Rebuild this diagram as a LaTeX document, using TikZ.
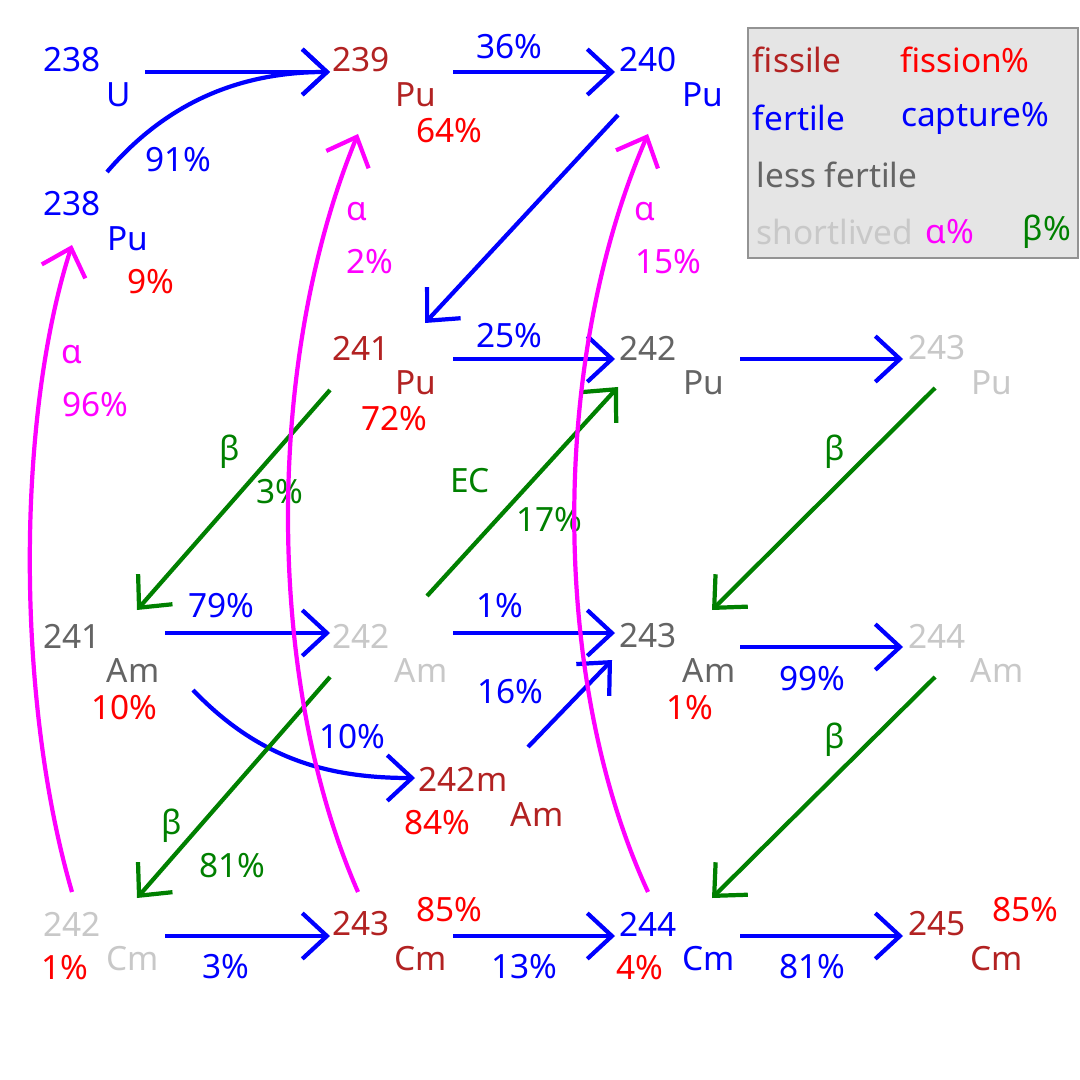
\documentclass[tikz,border=0pt]{standalone}
\usepackage{fontspec}
\setmainfont{Noto Sans}
\usetikzlibrary{arrows.meta,calc}
\definecolor{fis}{RGB}{178,34,34}
\definecolor{lessf}{RGB}{100,100,100}
\definecolor{short}{RGB}{200,200,200}
\definecolor{bgreen}{RGB}{0,128,0}
\definecolor{alph}{RGB}{255,0,255}
\tikzset{%
  mass/.style   = {inner sep=0pt, anchor=center},%
  sym/.style    = {inner sep=0pt, anchor=center},%
  pct/.style    = {inner sep=0pt, anchor=center},%
  capt/.style   = {blue, line width=1.2pt, -{Straight Barb[length=7pt,width=13pt]}},%
  beta/.style   = {capt, bgreen},%
  alpha/.style  = {capt, alph}%
}
\begin{document}
\begin{tikzpicture}[x=0.01cm,y=-0.01cm,
every node/.style = {font=\fontsize{9.5}{11}\selectfont}]
	\useasboundingbox (0,0) rectangle (1080,1080);
	% legend
	\draw[lessf!70, fill=black!10] (748,28) rectangle (1078,258);
	\node[pct,fis] (lfis) at (797,60) {fissile};
	\node[pct,red] (lfisp) at (965,60) {fission\%};
	\node[pct,blue] (lfer) at (799,118) {fertile};
	\node[pct,blue] (lcap) at (975,118) {capture\%};
	\node[pct,lessf] (lless) at (837,175) {less fertile};
	\node[pct,short] (lshort) at (835,232) {shortlived};
	\node[pct,alph] (lal) at (950,232) {α\%};
	\node[pct,bgreen] (lbe) at (1047,232) {β\%};
	% nuclides
	\node[mass,blue] (u238) at (72,60) {238};
	\node[sym,blue] at (119,95) {U};
	\node[mass,fis] (pu239) at (361,60) {239};
	\node[sym,fis] at (416,95) {Pu};
	\node[pct,red] at (449,131) {64\%};
	\node[mass,blue] (pu240) at (648,60) {240};
	\node[sym,blue] at (703,95) {Pu};
	\node[mass,blue] (pu238) at (72,204) {238};
	\node[sym,blue] at (128,239) {Pu};
	\node[pct,red] at (151,282) {9\%};
	\node[mass,fis] (pu241) at (361,348) {241};
	\node[sym,fis] at (416,383) {Pu};
	\node[pct,red] at (394,419) {72\%};
	\node[mass,lessf] (pu242) at (648,348) {242};
	\node[sym,lessf] at (704,383) {Pu};
	\node[mass,short] (pu243) at (937,348) {243};
	\node[sym,short] at (992,383) {Pu};
	\node[mass,lessf] (am241) at (72,636) {241};
	\node[sym,lessf] at (133,671) {Am};
	\node[pct,red] at (124,708) {10\%};
	\node[mass,short] (am242) at (361,636) {242};
	\node[sym,short] at (421,671) {Am};
	\node[mass,lessf] (am243) at (648,636) {243};
	\node[sym,lessf] at (709,671) {Am};
	\node[pct,red] at (690,708) {1\%};
	\node[mass,short] (am244) at (937,636) {244};
	\node[sym,short] at (997,671) {Am};
	\node[mass,fis] (am242m) at (463,779) {242m};
	\node[sym,fis] at (537,815) {Am};
	\node[pct,red] at (437,823) {84\%};
	\node[mass,short] (cm242) at (72,924) {242};
	\node[sym,short] at (133,959) {Cm};
	\node[pct,red] at (65,968) {1\%};
	\node[mass,fis] (cm243) at (361,924) {243};
	\node[sym,fis] at (421,959) {Cm};
	\node[pct,red] at (449,910) {85\%};
	\node[mass,blue] (cm244) at (648,924) {244};
	\node[sym,blue] at (709,959) {Cm};
	\node[pct,red] at (640,968) {4\%};
	\node[mass,fis] (cm245) at (937,924) {245};
	\node[sym,fis] at (997,959) {Cm};
	\node[pct,red] at (1025,910) {85\%};
	% captures
	\draw[capt] ($(u238)+(73,12)$) -- ($(pu239)+(-31,12)$);
	\draw[capt] ($(pu238)+(35,-32)$) .. controls (160,110) and (230,72) .. ($(pu239)+(-31,12)$);
	\node[pct,blue] at (178,160) {91\%};
	\draw[capt] ($(pu239)+(92,12)$) -- ($(pu240)+(-33,12)$);
	\node[pct,blue] at (509,47) {36\%};
	\draw[capt] ($(pu240)+(-30,55)$) -- ($(pu241)+(64,-25)$);
	\draw[capt] ($(pu241)+(92,11)$) -- ($(pu242)+(-33,11)$);
	\node[pct,blue] at (509,336) {25\%};
	\draw[capt] ($(pu242)+(92,11)$) -- ($(pu243)+(-34,11)$);
	\draw[capt] ($(am241)+(93,-3)$) -- ($(am242)+(-31,-3)$);
	\node[pct,blue] at (221,606) {79\%};
	\draw[capt] ($(am242)+(92,-3)$) -- ($(am243)+(-33,-3)$);
	\node[pct,blue] at (500,606) {1\%};
	\draw[capt] ($(am243)+(92,11)$) -- ($(am244)+(-34,11)$);
	\node[pct,blue] at (812,679) {99\%};
	\draw[capt] ($(am241)+(121,54)$) .. controls (260,760) and (330,778) .. ($(am242m)+(-48,-1)$);
	\node[pct,blue] at (352,737) {10\%};
	\draw[capt] ($(am242m)+(65,-32)$) -- ($(am243)+(-36,24)$);
	\node[pct,blue] at (510,692) {16\%};
	\draw[capt] ($(cm242)+(93,12)$) -- ($(cm243)+(-31,12)$);
	\node[pct,blue] at (226,967) {3\%};
	\draw[capt] ($(cm243)+(92,12)$) -- ($(cm244)+(-33,12)$);
	\node[pct,blue] at (524,967) {13\%};
	\draw[capt] ($(cm244)+(92,12)$) -- ($(cm245)+(-34,12)$);
	\node[pct,blue] at (812,967) {81\%};
	% decays
	\draw[beta] ($(pu241)+(-31,42)$) -- ($(am241)+(65,-26)$);
	\node[pct,bgreen] at (230,452) {β};
	\node[pct,bgreen] at (280,492) {3\%};
	\draw[beta] ($(am242)+(66,-40)$) -- ($(pu242)+(-30,39)$);
	\node[pct,bgreen] at (470,481) {EC};
	\node[pct,bgreen] at (549,520) {17\%};
	\draw[beta] ($(pu243)+(-2,40)$) -- ($(am243)+(64,-26)$);
	\node[pct,bgreen] at (835,452) {β};
	\draw[beta] ($(am242)+(-31,41)$) -- ($(cm242)+(65,-26)$);
	\node[pct,bgreen] at (172,826) {β};
	\node[pct,bgreen] at (232,866) {81\%};
	\draw[beta] ($(am244)+(-2,41)$) -- ($(cm244)+(64,-26)$);
	\node[pct,bgreen] at (835,740) {β};
	\draw[alpha] ($(cm242)+(0,-32)$) .. controls (16,700) and (16,420) .. ($(pu238)+(0,41)$);
	\node[pct,alph] at (72,355) {α};
	\node[pct,alph] at (95,405) {96\%};
	\draw[alpha] ($(cm243)+(-3,-32)$) .. controls (265,680) and (265,360) .. ($(pu239)+(-3,74)$);
	\node[pct,alph] at (357,212) {α};
	\node[pct,alph] at (370,262) {2\%};
	\draw[alpha] ($(cm244)+(0,-32)$) .. controls (550,680) and (550,360) .. ($(pu240)+(0,74)$);
	\node[pct,alph] at (645,212) {α};
	\node[pct,alph] at (668,262) {15\%};
\end{tikzpicture}
\end{document}
